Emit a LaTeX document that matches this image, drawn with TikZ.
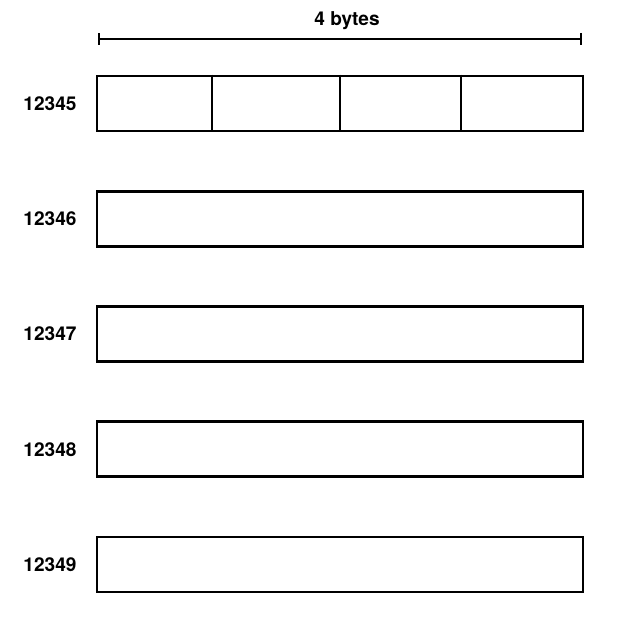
\documentclass[tikz,border=0pt]{standalone}
\usepackage{fontspec}
\setmainfont{TeX Gyre Heros}
\usetikzlibrary{arrows.meta}

\tikzset{
  cell/.style={draw, line width=1.9pt, minimum width=364.5pt, minimum height=41.25pt, inner sep=0pt},
  addr/.style={font=\fontsize{14.3}{17}\selectfont\bfseries, inner sep=0.75pt},
  span/.style={line width=1.5pt, {Bar[width=9pt,line width=1.5pt]}-{Bar[width=9pt,line width=1.5pt]}}
}

\begin{document}
\begin{tikzpicture}[x=0.75pt,y=0.75pt,yscale=-1,xscale=1]
\useasboundingbox (0,0) rectangle (621,630);

% size bracket
\coordinate (spanL) at (98,39);
\coordinate (spanR) at (582,39);
\draw [span] (spanL) -- (spanR);
\node [addr] (width) at (347,21) {4 bytes};

% memory rows
\foreach \i/\a in {0/12345,1/12346,2/12347,3/12348,4/12349}{
  \node [cell] (row\i) at (340,103.5+115.25*\i) {};
  \node [addr] (lab\i) at (50,103.5+115.25*\i) {\a};
}

% byte dividers of the first row
\foreach \x in {212,340,461}{
  \draw [line width=1.9pt] (row0.north -| \x,0) -- (row0.south -| \x,0);
}

\end{tikzpicture}
\end{document}
